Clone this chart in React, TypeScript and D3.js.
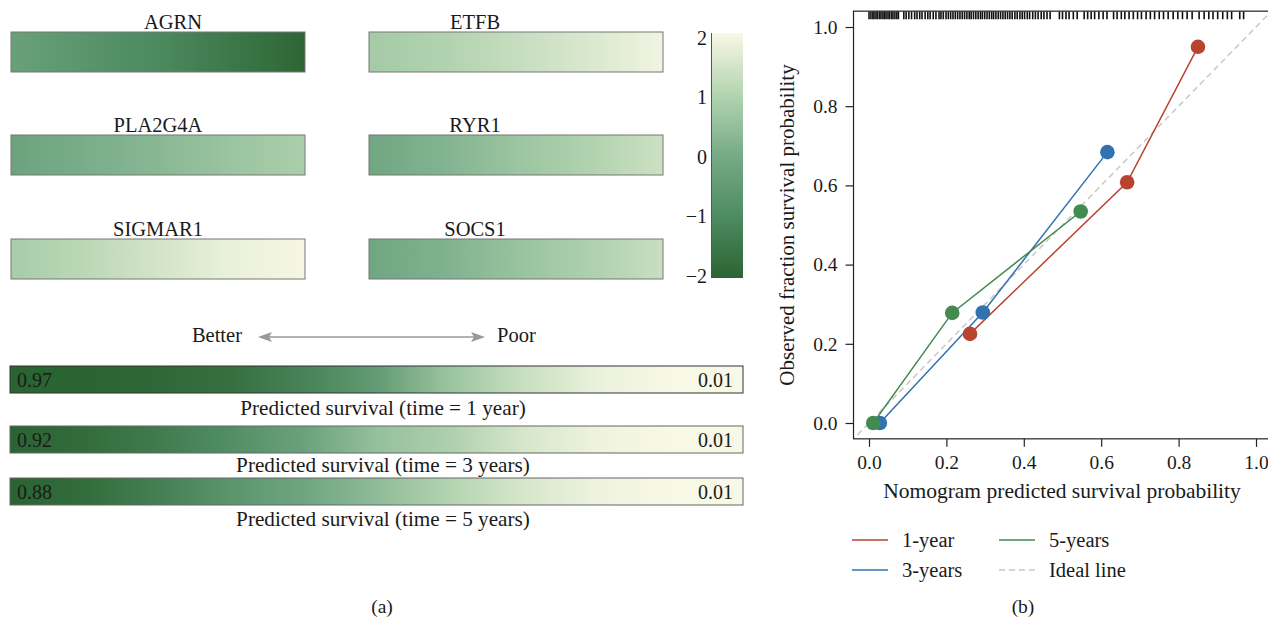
import * as d3 from 'd3';
import { useEffect, useRef } from 'react';

const W = 1268;
const H = 618;
const FONT = 'Liberation Serif, Times New Roman, serif';

// panel (a): gene expression bars (colour-scale values read left -> right)
const genes = ['AGRN', 'ETFB', 'PLA2G4A', 'RYR1', 'SIGMAR1', 'SOCS1'];
const geneValues = [
  [-0.35, -0.7, -1.05, -1.5, -1.95],
  [0.75, 0.95, 1.25, 1.55, 1.9],
  [-0.25, 0.05, 0.3, 0.6, 0.85],
  [-0.15, 0.2, 0.6, 0.95, 1.35],
  [0.8, 1.1, 1.45, 1.8, 1.95],
  [-0.15, 0.15, 0.55, 0.9, 1.3],
];
const legendTicks = [-2, -1, 0, 1, 2];
const legendColors = ['#2b6433', '#4e8b60', '#76ab88', '#b4d4b0', '#f8f8e6'];

// survival bars
const survivalLabels = [
  'Predicted survival (time = 1 year)',
  'Predicted survival (time = 3 years)',
  'Predicted survival (time = 5 years)',
];
const survivalMax = ['0.97', '0.92', '0.88'];
const survivalMin = ['0.01', '0.01', '0.01'];
const survivalValues = [
  [-2, -2, -1.9, -1.7, -1.2, -0.5, 0.6, 1.3, 1.8, 2, 2],
  [-2, -1.8, -1.4, -0.9, -0.3, 0.5, 0.9, 1.5, 1.85, 2, 2],
  [-2, -1.8, -1.3, -0.7, -0.2, 0.4, 1.0, 1.5, 1.85, 2, 2],
];

// panel (b): calibration curves
const seriesNames = ['1-year', '3-years', '5-years'];
const seriesColors = ['#b8432f', '#3272b0', '#428a50'];
const predicted = [
  [0.261, 0.667, 0.85],
  [0.028, 0.294, 0.616],
  [0.011, 0.215, 0.547],
];
const observed = [
  [0.225, 0.608, 0.95],
  [0.0, 0.279, 0.684],
  [0.0, 0.278, 0.534],
];
const axisTicks = [0, 0.2, 0.4, 0.6, 0.8, 1.0];
const rug = [
  0.0, 0.005, 0.01, 0.013, 0.018, 0.022, 0.027, 0.031, 0.036, 0.04, 0.044, 0.049,
  0.053, 0.058, 0.062, 0.067, 0.072, 0.076, 0.09, 0.096, 0.103, 0.11, 0.118, 0.124,
  0.131, 0.137, 0.145, 0.152, 0.158, 0.166, 0.173, 0.181, 0.186, 0.192, 0.199,
  0.205, 0.211, 0.217, 0.223, 0.229, 0.235, 0.241, 0.247, 0.253, 0.259, 0.264,
  0.27, 0.276, 0.282, 0.288, 0.293, 0.299, 0.305, 0.311, 0.317, 0.322, 0.328,
  0.334, 0.34, 0.346, 0.352, 0.358, 0.364, 0.37, 0.377, 0.383, 0.39, 0.396, 0.402,
  0.409, 0.415, 0.423, 0.43, 0.437, 0.445, 0.452, 0.46, 0.468, 0.492, 0.5, 0.509,
  0.517, 0.528, 0.538, 0.556, 0.565, 0.574, 0.583, 0.594, 0.605, 0.615, 0.632,
  0.641, 0.652, 0.661, 0.672, 0.683, 0.694, 0.704, 0.716, 0.727, 0.738, 0.75,
  0.761, 0.773, 0.786, 0.798, 0.81, 0.822, 0.835, 0.853, 0.866, 0.878, 0.889,
  0.901, 0.914, 0.926, 0.937, 0.958, 0.968,
];

const App = () => {
  const ref = useRef<SVGSVGElement | null>(null);

  useEffect(() => {
    if (!ref.current) return;
    const svg = d3.select(ref.current);
    svg.selectAll('*').remove();
    const defs = svg.append('defs');

    const color = d3
      .scaleLinear<string>()
      .domain(legendTicks)
      .range(legendColors)
      .interpolate(d3.interpolateRgb);

    const addGradient = (id: string, vals: number[]) => {
      const g = defs
        .append('linearGradient')
        .attr('id', id)
        .attr('x1', '0%')
        .attr('x2', '100%')
        .attr('y1', '0%')
        .attr('y2', '0%');
      vals.forEach((v, i) => {
        g.append('stop')
          .attr('offset', `${(i / (vals.length - 1)) * 100}%`)
          .attr('stop-color', color(v));
      });
    };

    const addText = (
      tx: number,
      ty: number,
      s: string,
      size: number,
      anchor = 'start'
    ) =>
      svg
        .append('text')
        .attr('x', tx)
        .attr('y', ty)
        .attr('text-anchor', anchor)
        .attr('font-family', FONT)
        .attr('font-size', size)
        .attr('fill', '#1a1a1a')
        .text(s);

    // ---- gene bars
    const colX = [11, 369];
    const rowY = [32, 135, 239];
    const barW = 294;
    const barH = 40;
    const labelCx = [173, 475, 158, 475, 158, 475];

    genes.forEach((gene, i) => {
      const gx = colX[i % 2];
      const gy = rowY[Math.floor(i / 2)];
      addGradient(`gene-${i}`, geneValues[i]);
      svg
        .append('rect')
        .attr('x', gx)
        .attr('y', gy)
        .attr('width', barW)
        .attr('height', barH)
        .attr('fill', `url(#gene-${i})`)
        .attr('stroke', '#777')
        .attr('stroke-width', 1);
      addText(labelCx[i], gy - 3, gene, 20.5, 'middle');
    });

    // ---- colour legend
    const cb = d3.scaleLinear().domain([-2, 2]).range([276, 38]);
    const cbGrad = defs
      .append('linearGradient')
      .attr('id', 'cb')
      .attr('x1', '0%')
      .attr('x2', '0%')
      .attr('y1', '100%')
      .attr('y2', '0%');
    legendTicks.forEach((t, i) => {
      cbGrad
        .append('stop')
        .attr('offset', `${(i / (legendTicks.length - 1)) * 100}%`)
        .attr('stop-color', color(t));
    });
    svg
      .append('rect')
      .attr('x', 711)
      .attr('y', 33)
      .attr('width', 32)
      .attr('height', 245)
      .attr('fill', 'url(#cb)');
    svg
      .append('line')
      .attr('x1', 711.5)
      .attr('x2', 711.5)
      .attr('y1', 33)
      .attr('y2', 278)
      .attr('stroke', '#555');
    svg
      .append('g')
      .selectAll('text')
      .data(legendTicks)
      .join('text')
      .attr('x', 707)
      .attr('y', (d) => cb(d))
      .attr('dy', '0.33em')
      .attr('text-anchor', 'end')
      .attr('font-family', FONT)
      .attr('font-size', 20)
      .attr('fill', '#1a1a1a')
      .text((d) => (d < 0 ? `\u2212${Math.abs(d)}` : `${d}`));

    // ---- Better / Poor arrow
    const arrowY = 337;
    const arrow = svg.append('g').attr('fill', '#999').attr('stroke', '#999');
    arrow
      .append('line')
      .attr('x1', 262)
      .attr('x2', 481)
      .attr('y1', arrowY)
      .attr('y2', arrowY)
      .attr('stroke-width', 1.5);
    arrow
      .append('path')
      .attr('stroke', 'none')
      .attr('d', `M258,${arrowY} L272,${arrowY - 5} L269,${arrowY} L272,${arrowY + 5} Z`);
    arrow
      .append('path')
      .attr('stroke', 'none')
      .attr('d', `M485,${arrowY} L471,${arrowY - 5} L474,${arrowY} L471,${arrowY + 5} Z`);
    addText(242, 342, 'Better', 20.5, 'end');
    addText(497, 342, 'Poor', 20.5);

    // ---- survival bars
    const sX = 10;
    const sW = 733;
    const sTop = [366, 426, 478];
    const sH = 27;
    const sLabelY = [415, 472, 526];
    survivalLabels.forEach((label, i) => {
      addGradient(`surv-${i}`, survivalValues[i]);
      svg
        .append('rect')
        .attr('x', sX)
        .attr('y', sTop[i])
        .attr('width', sW)
        .attr('height', sH)
        .attr('fill', `url(#surv-${i})`)
        .attr('stroke', i === 0 ? '#333' : '#666')
        .attr('stroke-width', 1);
      addText(17, sTop[i] + 21, survivalMax[i], 20);
      addText(733, sTop[i] + 21, survivalMin[i], 20, 'end');
      addText(383, sLabelY[i], label, 21.2, 'middle');
    });

    // ---- panel (b)
    const x = d3.scaleLinear().domain([0, 1]).range([869, 1256]);
    const y = d3.scaleLinear().domain([0, 1]).range([423, 27]);
    const lo = -0.04;
    const hi = 1.04;

    defs
      .append('clipPath')
      .attr('id', 'plot-clip')
      .append('rect')
      .attr('x', x(lo))
      .attr('y', y(hi))
      .attr('width', x(hi) - x(lo))
      .attr('height', y(lo) - y(hi));

    const plot = svg.append('g').attr('clip-path', 'url(#plot-clip)');

    // ideal line
    plot
      .append('line')
      .attr('x1', x(-0.03))
      .attr('y1', y(-0.03))
      .attr('x2', x(hi))
      .attr('y2', y(hi))
      .attr('stroke', '#c8c8c8')
      .attr('stroke-width', 1.5)
      .attr('stroke-dasharray', '6,4');

    // rug along top
    plot
      .append('g')
      .selectAll('line')
      .data(rug)
      .join('line')
      .attr('x1', (d) => x(d))
      .attr('x2', (d) => x(d))
      .attr('y1', y(hi))
      .attr('y2', y(hi) + 8)
      .attr('stroke', '#111')
      .attr('stroke-width', 1.6);

    const line = d3
      .line<number[]>()
      .x((d) => x(d[0]))
      .y((d) => y(d[1]));

    seriesNames.forEach((_, i) => {
      const pts = predicted[i].map((p, j) => [p, observed[i][j]]);
      plot
        .append('path')
        .attr('d', line(pts))
        .attr('fill', 'none')
        .attr('stroke', seriesColors[i])
        .attr('stroke-width', 1.5);
    });
    seriesNames.forEach((_, i) => {
      const pts = predicted[i].map((p, j) => [p, observed[i][j]]);
      plot
        .append('g')
        .selectAll('circle')
        .data(pts)
        .join('circle')
        .attr('cx', (d) => x(d[0]))
        .attr('cy', (d) => y(d[1]))
        .attr('r', 7.3)
        .attr('fill', seriesColors[i]);
    });

    // box
    svg
      .append('rect')
      .attr('x', x(lo))
      .attr('y', y(hi))
      .attr('width', x(hi) - x(lo))
      .attr('height', y(lo) - y(hi))
      .attr('fill', 'none')
      .attr('stroke', '#222')
      .attr('stroke-width', 1.2);

    // axes
    const xAxis = svg
      .append('g')
      .attr('transform', `translate(0,${y(lo)})`)
      .call(
        d3
          .axisBottom(x)
          .tickValues(axisTicks)
          .tickSize(8)
          .tickPadding(8)
          .tickFormat(d3.format('.1f'))
      );
    xAxis.select('.domain').remove();
    xAxis.selectAll('.tick line').attr('stroke', '#222').attr('stroke-width', 1.2);
    xAxis
      .selectAll('text')
      .attr('font-family', FONT)
      .attr('font-size', 19.5)
      .attr('fill', '#1a1a1a');

    const yAxis = svg
      .append('g')
      .attr('transform', `translate(${x(lo)},0)`)
      .call(
        d3
          .axisLeft(y)
          .tickValues(axisTicks)
          .tickSize(8)
          .tickPadding(8)
          .tickFormat(d3.format('.1f'))
      );
    yAxis.select('.domain').remove();
    yAxis.selectAll('.tick line').attr('stroke', '#222').attr('stroke-width', 1.2);
    yAxis
      .selectAll('text')
      .attr('font-family', FONT)
      .attr('font-size', 19.5)
      .attr('fill', '#1a1a1a');

    addText(1062, 498, 'Nomogram predicted survival probability', 21.5, 'middle');

    svg
      .append('text')
      .attr('transform', `translate(794,225) rotate(-90)`)
      .attr('text-anchor', 'middle')
      .attr('font-family', FONT)
      .attr('font-size', 21)
      .attr('fill', '#1a1a1a')
      .text('Observed fraction survival probability');

    // legend
    const legendItems = [
      { name: seriesNames[0], color: seriesColors[0], dash: null, lx: 852, ly: 540 },
      { name: seriesNames[1], color: seriesColors[1], dash: null, lx: 852, ly: 570 },
      { name: seriesNames[2], color: seriesColors[2], dash: null, lx: 999, ly: 540 },
      { name: 'Ideal line', color: '#c8c8c8', dash: '6,4', lx: 999, ly: 570 },
    ];
    legendItems.forEach((d) => {
      svg
        .append('line')
        .attr('x1', d.lx)
        .attr('x2', d.lx + 36)
        .attr('y1', d.ly)
        .attr('y2', d.ly)
        .attr('stroke', d.color)
        .attr('stroke-width', 1.5)
        .attr('stroke-dasharray', d.dash);
      addText(d.lx + 50, d.ly + 7, d.name, 20.5);
    });

    // panel captions
    addText(382, 613, '(a)', 19.5, 'middle');
    addText(1023, 613, '(b)', 19.5, 'middle');
  }, []);

  return (
    <svg
      ref={ref}
      width={W}
      height={H}
      style={{ position: 'absolute', left: 0, top: 0, background: '#fff' }}
    />
  );
};

export default App;
